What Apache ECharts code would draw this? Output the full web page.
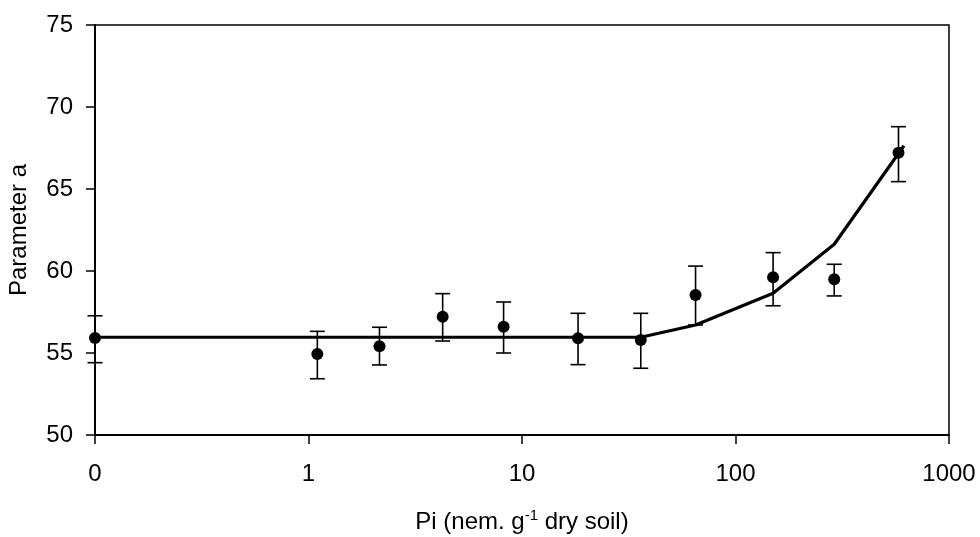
<!DOCTYPE html>
<html>
<head>
<meta charset="utf-8">
<script src="https://cdn.jsdelivr.net/npm/echarts@6/dist/echarts.min.js"></script>
<style>
html,body{margin:0;padding:0;background:#fff;}
#chart{width:980px;height:537px;}
</style>
</head>
<body>
<div id="chart"></div>
<script>
// Observed data (x = Pi, nem. g-1 dry soil; first point plotted at log-axis origin, labelled "0")
const xVals   = [0.1, 1.1, 2.15, 4.25, 8.2, 18.3, 36, 65, 150, 290, 580];
const yVals   = [55.91, 54.94, 55.41, 57.21, 56.60, 55.90, 55.79, 58.54, 59.62, 59.49, 67.21];
const errHigh = [57.27, 56.32, 56.57, 58.62, 58.11, 57.42, 57.42, 60.30, 61.12, 60.41, 68.80];
const errLow  = [54.41, 53.43, 54.27, 55.73, 55.00, 54.29, 54.07, 56.71, 57.88, 58.48, 65.45];
// Fitted curve
const fitX = [0.1, 36, 65, 150, 290, 615];
const fitY = [55.96, 55.96, 56.71, 58.64, 61.63, 67.64];
// Axis ticks
const yTicks = [50, 55, 60, 65, 70, 75];

const FONT = 'Liberation Sans, Arial, sans-serif';
const chart = echarts.init(document.getElementById('chart'));

const pts = xVals.map((x, i) => [x, yVals[i]]);
const errs = xVals.map((x, i) => [x, errLow[i], errHigh[i]]);
const fit = fitX.map((x, i) => [x, fitY[i]]);

chart.setOption({
  animation: false,
  backgroundColor: '#fff',
  grid: {left: 95, right: 31, top: 25, bottom: 102, show: true, borderColor: '#000', borderWidth: 1.5,
    containLabel: false, outerBoundsMode: 'none'},
  xAxis: {
    type: 'log', logBase: 10, min: 0.1, max: 1000,
    name: 'Pi (nem. g{sup|-1} dry soil)',
    nameLocation: 'middle', nameGap: 73,
    nameTextStyle: {fontFamily: FONT, fontSize: 24, color: '#000', lineHeight: 28,
      rich: {sup: {fontFamily: FONT, fontSize: 15, color: '#000', verticalAlign: 'top', lineHeight: 16}}},
    axisLine: {show: true, lineStyle: {color: '#000', width: 2}},
    axisTick: {show: true, inside: false, length: 9, lineStyle: {color: '#000', width: 1.5}},
    minorTick: {show: false},
    splitLine: {show: false},
    axisLabel: {fontFamily: FONT, fontSize: 24, color: '#000', margin: 27,
      formatter: v => (v < 0.5 ? '0' : String(Math.round(v)))}
  },
  yAxis: {
    type: 'value', min: 50, max: 75, interval: 5,
    name: 'Parameter a',
    nameLocation: 'middle', nameGap: 64,
    nameTextStyle: {fontFamily: FONT, fontSize: 24, color: '#000'},
    axisLine: {show: true, lineStyle: {color: '#000', width: 2}},
    axisTick: {show: true, inside: false, length: 9, lineStyle: {color: '#000', width: 1.5}},
    splitLine: {show: false},
    axisLabel: {fontFamily: FONT, fontSize: 24, color: '#000', margin: 22,
      formatter: v => (yTicks.indexOf(v) >= 0 ? String(v) : '')}
  },
  series: [
    {
      type: 'custom',
      data: errs,
      clip: false,
      z: 3,
      renderItem: function (params, api) {
        const x = api.value(0);
        const lo = api.coord([x, api.value(1)]);
        const hi = api.coord([x, api.value(2)]);
        const hw = 7.5;
        const st = {stroke: '#000', lineWidth: 1.6, fill: null};
        return {
          type: 'group',
          children: [
            {type: 'line', shape: {x1: lo[0], y1: lo[1], x2: hi[0], y2: hi[1]}, style: st},
            {type: 'line', shape: {x1: lo[0] - hw, y1: lo[1], x2: lo[0] + hw, y2: lo[1]}, style: st},
            {type: 'line', shape: {x1: hi[0] - hw, y1: hi[1], x2: hi[0] + hw, y2: hi[1]}, style: st}
          ]
        };
      }
    },
    {
      type: 'line',
      data: fit,
      symbol: 'none',
      clip: false,
      z: 4,
      lineStyle: {color: '#000', width: 3.2}
    },
    {
      type: 'scatter',
      data: pts,
      symbol: 'circle',
      symbolSize: 12,
      clip: false,
      z: 5,
      itemStyle: {color: '#000', opacity: 1}
    }
  ]
});
</script>
</body>
</html>
